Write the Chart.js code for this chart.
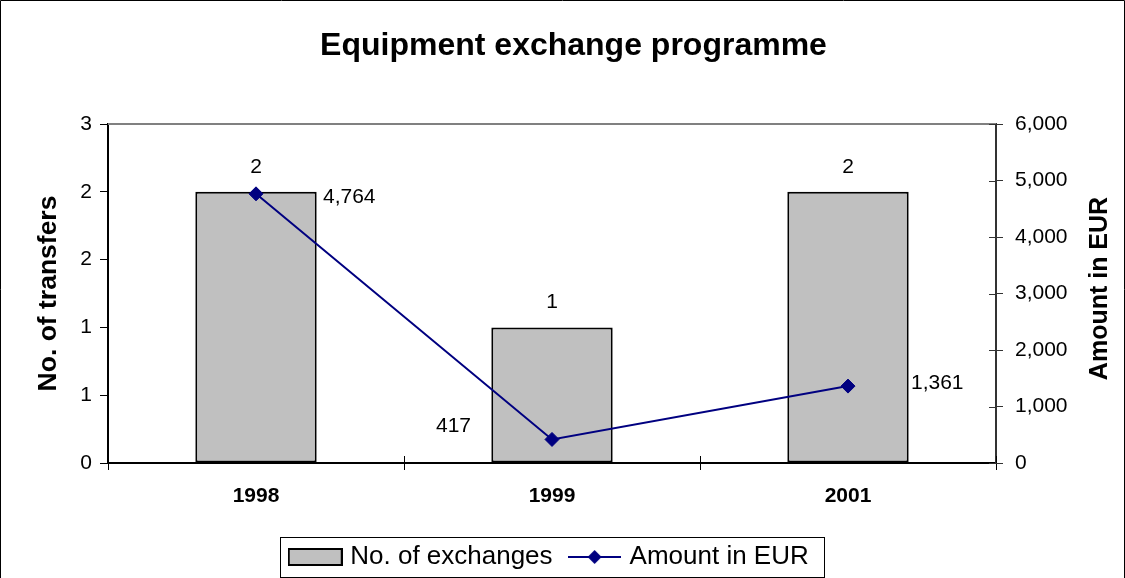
<!DOCTYPE html>
<html>
<head>
<meta charset="utf-8">
<title>Equipment exchange programme</title>
<script src="https://cdn.jsdelivr.net/npm/chart.js@4.4.1/dist/chart.umd.min.js"></script>
<style>
  html, body { margin: 0; padding: 0; background: #fff; overflow: hidden; }
  canvas { display: block; }
</style>
</head>
<body>
<canvas id="chart" width="1125" height="578"></canvas>
<script>
const years = ['1998', '1999', '2001'];
const exchanges = [2, 1, 2];
const amounts = [4764, 417, 1361];
const leftTickLabels = ['0', '1', '1', '2', '2', '3'];
const rightTickLabels = ['0', '1,000', '2,000', '3,000', '4,000', '5,000', '6,000'];

const FONT = "'Liberation Sans', Arial, sans-serif";
Chart.defaults.font.family = FONT;
Chart.defaults.color = '#000';

// small canvases used as legend symbols
function makeIcon(w, h, draw) {
  const c = document.createElement('canvas');
  c.width = w;
  c.height = h;
  draw(c.getContext('2d'));
  return c;
}
const barIcon = makeIcon(55, 18, g => {
  g.fillStyle = '#c0c0c0';
  g.fillRect(1, 1, 53, 16);
  g.strokeStyle = '#000';
  g.lineWidth = 2;
  g.strokeRect(1, 1, 53, 16);
});
const lineIcon = makeIcon(53, 18, g => {
  g.strokeStyle = '#000080';
  g.lineWidth = 2;
  g.beginPath(); g.moveTo(0, 9); g.lineTo(53, 9); g.stroke();
  g.fillStyle = '#000080';
  g.beginPath();
  g.moveTo(26.5, 2); g.lineTo(33.5, 9); g.lineTo(26.5, 16); g.lineTo(19.5, 9);
  g.closePath(); g.fill();
});

const decorations = {
  id: 'decorations',
  beforeDraw(chart) {
    const {ctx, width, height} = chart;
    ctx.save();
    ctx.fillStyle = '#fff';
    ctx.fillRect(0, 0, width, height);
    ctx.strokeStyle = '#000';
    ctx.lineWidth = 1;
    ctx.beginPath();
    ctx.moveTo(0.5, height); ctx.lineTo(0.5, 0.5);
    ctx.lineTo(width - 0.5, 0.5); ctx.lineTo(width - 0.5, height);
    ctx.stroke();
    ctx.restore();
  },
  beforeDatasetsDraw(chart) {
    // plot area top edge + inner half of the crossing tick marks
    const {ctx, chartArea: a, scales} = chart;
    ctx.save();
    ctx.strokeStyle = '#808080';
    ctx.lineWidth = 2;
    ctx.beginPath(); ctx.moveTo(a.left, a.top); ctx.lineTo(a.right, a.top); ctx.stroke();
    ctx.lineWidth = 1;
    ctx.strokeStyle = '#000';
    ctx.beginPath();
    for (let i = 0; i <= years.length; i++) {
      const x = Math.round(scales.x.getPixelForValue(i - 0.5)) + 0.5;
      ctx.moveTo(x, a.bottom); ctx.lineTo(x, a.bottom - 7);
    }
    ctx.stroke();
    ctx.strokeStyle = '#333';
    ctx.beginPath();
    scales.y1.ticks.forEach(t => {
      const y = Math.round(scales.y1.getPixelForValue(t.value)) + 0.5;
      ctx.moveTo(a.right, y); ctx.lineTo(a.right - 7, y);
    });
    ctx.stroke();
    ctx.restore();
  },
  afterDatasetsDraw(chart, args, opts) {
    const {ctx} = chart;
    ctx.save();
    ctx.font = '21px ' + FONT;
    ctx.fillStyle = '#000';
    ctx.textBaseline = 'middle';
    ctx.textAlign = 'center';
    chart.getDatasetMeta(0).data.forEach((bar, i) => {
      ctx.fillText(String(exchanges[i]), bar.x, bar.y - opts.barGap);
    });
    chart.getDatasetMeta(1).data.forEach((pt, i) => {
      const o = opts.lineOffsets[i];
      ctx.textAlign = o.align;
      ctx.fillText(amounts[i].toLocaleString('en-US'), pt.x + o.dx, pt.y + o.dy);
    });
    ctx.restore();
  },
  afterDraw(chart) {
    const {ctx, chartArea: a, scales} = chart;
    ctx.save();
    ctx.fillStyle = '#000';
    ctx.font = 'bold 32px ' + FONT;
    ctx.textAlign = 'center';
    ctx.textBaseline = 'alphabetic';
    ctx.fillText('Equipment exchange programme', 573.5, 55);

    // right axis title reads upwards like the left one
    ctx.translate(scales.y1.right - 2, (a.top + a.bottom) / 2 - 5);
    ctx.rotate(-Math.PI / 2);
    ctx.font = 'bold 25px ' + FONT;
    ctx.textBaseline = 'middle';
    ctx.fillText('Amount in EUR', 0, 0);
    ctx.setTransform(1, 0, 0, 1, 0, 0);

    // frame round the legend
    const hb = chart.legend.legendHitBoxes;
    const first = hb[0], last = hb[hb.length - 1];
    const x0 = Math.round(first.left - 13.5) + 0.5;
    const x1 = Math.round(last.left + last.width + 15) + 0.5;
    const y0 = Math.round(first.top - 7) + 0.5;
    ctx.strokeStyle = '#000';
    ctx.lineWidth = 1;
    ctx.strokeRect(x0, y0, x1 - x0, 40);
    ctx.restore();
  }
};

new Chart(document.getElementById('chart'), {
  data: {
    labels: years,
    datasets: [{
      type: 'bar',
      label: 'No. of exchanges',
      data: exchanges,
      yAxisID: 'y',
      backgroundColor: '#c0c0c0',
      borderColor: '#000',
      borderWidth: 2,
      borderSkipped: false,
      barPercentage: 0.41,
      categoryPercentage: 1,
      order: 2
    }, {
      type: 'line',
      label: 'Amount in EUR',
      data: amounts,
      yAxisID: 'y1',
      borderColor: '#000080',
      borderWidth: 2,
      backgroundColor: '#000080',
      pointStyle: 'rectRot',
      pointRadius: 7,
      pointBorderWidth: 1,
      pointBackgroundColor: '#000080',
      tension: 0,
      order: 1
    }]
  },
  options: {
    responsive: false,
    animation: false,
    devicePixelRatio: 1,
    layout: { padding: { top: 124, left: 0, right: 23, bottom: -2 } },
    plugins: {
      tooltip: { enabled: false },
      title: { display: false },
      legend: {
        position: 'bottom',
        labels: {
          usePointStyle: true,
          pointStyleWidth: 44,
          boxHeight: 18,
          padding: 20,
          color: '#000',
          font: { size: 26 },
          generateLabels(chart) {
            const items = Chart.defaults.plugins.legend.labels.generateLabels(chart);
            items.sort((p, q) => p.datasetIndex - q.datasetIndex);
            items.forEach(it => {
              it.pointStyle = it.datasetIndex === 0 ? barIcon : lineIcon;
              it.fontColor = '#000';
            });
            return items;
          }
        }
      },
      decorations: {
        barGap: 25,
        lineOffsets: [
          { align: 'left', dx: 67, dy: 3 },
          { align: 'right', dx: -81, dy: -13 },
          { align: 'left', dx: 63, dy: -3 }
        ]
      }
    },
    scales: {
      x: {
        grid: { drawOnChartArea: false, tickLength: 7, color: '#000', lineWidth: 1 },
        border: { color: '#000', width: 2 },
        ticks: { font: { size: 21, weight: 'bold' }, padding: 14, color: '#000' },
        afterFit(s) { s.height = 61; }
      },
      y: {
        position: 'left',
        min: 0,
        max: 2.5,
        ticks: {
          stepSize: 0.5,
          padding: 8,
          color: '#000',
          font: { size: 21 },
          callback: (v, i) => leftTickLabels[i]
        },
        grid: { drawOnChartArea: false, tickLength: 8, color: '#000', lineWidth: 1 },
        border: { color: '#000', width: 2 },
        title: {
          display: true,
          text: 'No. of transfers',
          color: '#000',
          font: { size: 26.5, weight: 'bold' },
          padding: { top: 33, bottom: 0 }
        },
        afterFit(s) { s.width = 108; }
      },
      y1: {
        position: 'right',
        min: 0,
        max: 6000,
        ticks: {
          stepSize: 1000,
          padding: 12,
          color: '#000',
          font: { size: 21 },
          callback: (v, i) => rightTickLabels[i]
        },
        grid: { drawOnChartArea: false, tickLength: 7, color: '#333', lineWidth: 1 },
        border: { color: '#333', width: 2 },
        afterFit(s) { s.width = 106; }
      }
    }
  },
  plugins: [decorations]
});
</script>
</body>
</html>
